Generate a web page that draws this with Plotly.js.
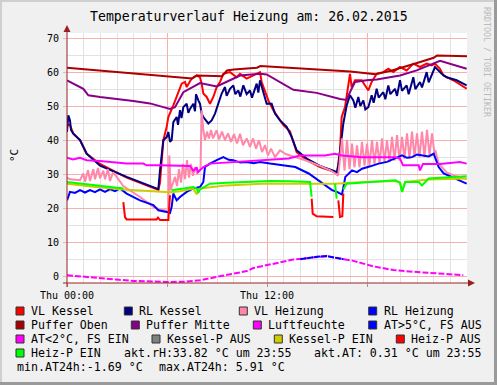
<!DOCTYPE html>
<html><head><meta charset="utf-8">
<script src="https://cdn.plot.ly/plotly-3.0.1.min.js"></script>
<style>html,body{margin:0;padding:0;background:#F0F0F0;}#chart{width:497px;height:385px;}</style>
</head><body><div id="chart"></div>
<script>
// ---- data (time in hours of 26.02.2015, values in °C / %) ----
const vlKesselT=[0,0.18,0.38,0.78,1.18,1.98,3.58,5.48,5.58,5.78,5.98,6.08,6.38,6.58,6.88,7.08,7.18,7.48,7.78,7.98,8.08,8.18,8.38,8.58,8.78,8.98,9.18,9.38,9.78,10.18,10.38,10.78,11.18,11.58,11.68,11.88,12.08,12.38,12.68,12.98,13.38,13.68,13.78,14.38,15.18,15.98,16.2,16.38,16.48,16.68,16.98,17.08,17.28,17.68,18.08,18.28,18.58,18.98,19.28,19.58,19.98,20.38,20.78,21.18,21.58,21.88,22.08,22.38,22.58,23.18,23.98];
const vlKesselV=[44.5,44.4,41.9,40.0,36.0,33.0,29.0,25.4,27.5,40.0,43.9,46.8,50.2,52.7,56.6,57.1,55.6,58.1,59.0,58.5,56.6,53.7,52.7,50.7,52.7,55.6,57.1,59.5,60.0,58.5,59.5,58.1,59.0,60.0,57.1,54.6,51.7,48.8,46.4,44.4,42.6,38.0,36.5,34.1,32.1,30.8,30.4,37.0,46.8,49.7,59.5,55.6,57.6,57.6,54.6,57.1,59.5,60.0,61.0,60.0,61.5,60.5,62.5,61.5,62.5,62.0,62.5,61.0,59.0,57.6,55.1];

const rlKesselT=[0,0.08,0.18,0.24,0.38,0.78,1.18,1.98,3.58,5.48,5.58,5.78,5.98,6.08,6.18,6.28,6.38,6.58,6.66,6.78,6.87,6.98,7.18,7.28,7.38,7.58,7.68,7.74,7.88,7.98,8.08,8.18,8.48,8.68,8.88,9.08,9.28,9.48,9.58,9.78,9.98,10.1,10.28,10.4,10.58,10.78,10.98,11.1,11.38,11.48,11.58,11.78,11.98,12.28,12.48,12.78,13.18,13.48,13.78,14.38,15.18,15.98,16.2,16.3,16.38,16.58,16.78,16.98,17.18,17.3,17.48,17.6,17.78,17.9,18.08,18.28,18.4,18.58,18.7,18.98,19.1,19.28,19.4,19.68,19.8,19.98,20.1,20.38,20.5,20.78,20.9,21.18,21.3,21.58,21.7,21.88,22.08,22.28,22.48,22.78,23.38,23.98];
const rlKesselV=[42.4,47.3,45.8,43.0,41.9,40.0,36.0,32.5,29.2,25.6,31.1,40.0,40.9,42.4,39.5,40.0,45.3,46.8,44.5,48.8,46.5,49.7,50.7,48.0,49.2,50.7,48.5,53.5,51.7,50.7,47.8,46.8,44.9,45.8,47.8,50.7,53.7,55.6,53.0,55.1,56.1,53.5,54.6,52.8,56.1,53.5,54.6,52.5,56.6,54.0,57.6,54.1,50.7,50.7,47.8,45.8,43.9,40.9,37.0,34.6,32.4,31.0,30.6,33.1,37.0,44.9,50.2,53.2,51.7,49.5,52.7,50.0,51.7,49.0,49.7,53.2,51.0,55.1,52.5,54.1,52.0,56.1,53.5,55.1,53.0,57.6,54.5,56.1,53.5,58.5,55.0,57.1,55.5,60.0,57.0,59.0,61.5,60.5,59.5,58.5,57.6,56.1];

const vlHeizungT=[0,0.18,0.78,0.98,1.08,1.26,1.38,1.58,1.68,1.86,1.98,2.18,2.28,2.46,2.58,2.76,2.98,3.38,4.38,5.18,5.58,6.08,6.14,6.22,6.48,6.6,6.72,6.84,6.96,7.08,7.2,7.32,7.44,7.56,7.68,7.8,8.01,8.08,8.18,8.28,8.4,8.52,8.64,8.76,8.98,9.12,9.3,9.48,9.66,9.84,10.02,10.2,10.38,10.56,10.78,10.98,11.16,11.34,11.52,11.7,11.88,12.06,12.24,12.48,12.78,13.1,13.38,13.7,14.3,15.1,15.8,16.1,16.26,16.35,16.5,16.65,16.8,16.95,17.1,17.25,17.4,17.55,17.7,17.85,18.0,18.15,18.3,18.45,18.6,18.75,18.9,19.05,19.2,19.35,19.5,19.65,19.8,19.95,20.1,20.25,20.4,20.55,20.7,20.85,21.0,21.15,21.3,21.45,21.6,21.75,21.9,22.05,22.1,22.3,22.78,23.28,23.98];
const vlHeizungV=[29.0,28.5,28.2,30.2,27.8,31.2,28.0,31.5,28.5,31.8,28.8,31.0,28.5,31.5,28.0,30.5,29.2,26.5,23.3,20.4,19.6,19.2,35.5,25.3,29.2,26.5,31.5,27.5,33.0,28.5,34.1,29.0,33.0,29.5,32.0,30.2,31.5,48.8,42.9,40.0,42.5,40.5,43.0,40.5,42.9,40.2,42.5,40.0,42.0,39.5,41.8,39.0,41.9,38.5,40.5,38.0,40.5,37.5,40.0,36.5,38.5,35.5,37.5,35.0,37.0,36.0,35.5,35.0,34.1,32.6,31.1,30.2,29.5,33.0,40.5,31.0,40.0,31.5,39.0,32.0,38.5,32.0,39.5,32.5,39.0,32.5,40.0,33.0,39.5,33.0,40.5,33.5,40.0,33.5,41.0,34.0,41.5,34.0,41.0,34.5,42.0,34.5,42.5,35.0,42.0,35.0,42.5,35.0,43.0,35.5,42.0,36.0,37.0,33.1,30.5,29.5,28.6];

const rlHeizungT=[0,0.18,0.48,0.78,1.08,1.38,1.68,1.98,2.28,2.58,2.88,3.18,3.58,4.38,5.18,5.48,5.98,6.18,6.28,6.38,6.58,6.78,7.18,7.58,7.98,8.18,8.28,8.58,8.98,9.38,9.7,9.98,10.4,10.78,11.2,11.58,12.18,12.9,13.7,14.5,15.2,15.9,16.2,16.38,16.5,16.7,17.1,17.4,17.7,18.2,18.7,19.2,19.7,20.1,20.4,20.7,21.0,21.3,21.7,22.0,22.3,22.6,23.3,23.98];
const rlHeizungV=[22.3,24.8,24.5,25.3,24.6,25.3,24.7,25.5,24.8,25.6,25.0,25.8,24.3,22.3,20.9,19.4,18.9,18.6,20.4,24.3,22.3,23.3,24.8,25.8,26.2,27.7,32.1,33.1,34.1,35.0,34.2,34.1,33.4,33.6,33.2,33.6,33.1,32.6,32.1,30.2,27.7,25.3,24.8,24.3,24.0,29.2,31.1,30.6,31.6,32.3,33.1,33.6,34.6,35.5,34.8,35.0,35.8,35.5,35.2,36.0,32.1,30.2,28.7,27.2];

const pufferObenT=[0,2,4,6,7.5,7.8,9.3,9.6,10,11.4,11.6,17,18.5,19.5,20,21,22,22.2,24];
const pufferObenV=[61.3,60.4,59.6,58.8,58.1,59.0,58.8,60.5,60.8,61.3,61.8,60.2,59.4,60.5,61.3,62.7,64.2,64.9,64.7];

const pufferMitteT=[0,0.98,1.28,1.98,3.98,4.98,5.78,6.18,6.48,6.98,7.98,8.98,9.78,10.38,11.58,11.98,13.58,14.98,16.38,16.78,16.98,17.28,17.98,18.58,19.98,20.98,22.38,23.98];
const pufferMitteV=[57.6,55.1,53.2,52.7,51.5,50.8,49.7,49.2,49.7,54.1,56.8,55.8,57.6,59.0,59.5,59.3,54.8,53.9,52.1,51.8,54.1,57.1,57.6,57.8,59.0,60.5,63.3,61.0];

const luftT=[0,0.36,0.78,1.18,1.98,2.58,3.58,4.58,4.78,5.58,6.58,7.38,7.58,7.78,7.86,8.18,8.58,10.38,11.98,13.3,13.98,15.48,16.08,16.5,17.7,19.68,19.98,20.16,21.1,21.18,21.36,22.38,23.58,23.98];
const luftV=[34.8,34.3,34.8,34.1,33.9,33.6,33.1,33.1,32.6,32.6,32.6,32.4,31.0,32.0,30.6,32.1,33.1,33.6,34.1,34.6,35.5,35.5,36.0,35.5,35.0,35.0,34.6,32.6,32.6,31.1,33.0,33.0,33.6,33.1];

const atT=[0,0.98,1.98,2.98,3.98,4.98,5.98,6.98,7.98,8.98,9.98,10.78,11.18,11.98,12.78,13.58,14.38,14.98,15.58,16.38,17.18,18.38,19.58,20.78,22.38,23.78];
const atV=[0.3,-0.2,-0.7,-1.0,-1.4,-1.65,-1.69,-1.65,-1.2,-0.2,0.8,1.5,2.4,3.2,4.2,4.9,5.3,5.7,5.91,5.2,4.5,2.9,1.8,1.3,0.8,0.31];
const atHighT=[14.0,14.38,14.98,15.58,16.0,16.38,16.6];
const atHighV=[5.0,5.3,5.7,5.91,5.6,5.2,5.0];

const kesselPEinT=[0,1.58,3.58,5.58,6.18,6.78,7.58,7.78,7.98,9.58,11.7,14.7,16.08,17.58,19.7,19.98,20.1,20.28,21.7,23.98];
const kesselPEinV=[27.2,26.3,25.4,24.8,24.7,25.0,25.8,24.1,25.8,26.7,27.2,27.2,27.2,27.6,28.0,27.5,24.8,27.7,28.4,28.7];

const heizPEinT=[0,0.78,1.58,2.58,3.38,null,6.28,6.78,7.58,7.78,7.88,7.98,8.58,9.58,10.98,12.18,13.38,14.58,14.68,null,16.08,16.18,null,16.58,16.78,17.58,18.78,19.7,19.98,20.1,20.3,21.1,21.3,21.7,22.68,23.7,23.98];
const heizPEinV=[27.7,27.3,26.8,26.3,25.8,null,25.3,25.6,26.2,25.8,24.5,25.5,27.2,27.5,27.8,28.0,27.9,27.7,23.3,null,27.2,22.8,null,25.5,27.2,27.5,27.8,28.2,27.5,24.8,27.7,27.7,26.7,28.7,29.0,29.4,29.4];

const heizPAusT=[3.38,3.48,3.58,5.38,5.46,5.58,6.08,6.18,null,14.68,14.74,14.98,15.98,null,16.28,16.38,16.52,16.58];
const heizPAusV=[21.8,17.4,16.7,16.7,17.2,16.5,16.5,23.8,null,22.8,18.4,17.6,17.4,null,22.3,17.4,17.6,24.3];

const legendRows=[
  [["VL Kessel","#FF0000"],["RL Kessel","#000080"],["VL Heizung","#FF88AA"],["RL Heizung","#0000FF"]],
  [["Puffer Oben","#AA0000"],["Puffer Mitte","#880088"],["Luftfeuchte","#FF00FF"],["AT>5°C, FS AUS","#0000FF"]],
  [["AT<2°C, FS EIN","#FF00FF"],["Kessel-P AUS","#808080"],["Kessel-P EIN","#CCCC00"],["Heiz-P AUS","#FF0000"]],
  [["Heiz-P EIN","#00FF00"]]
];
const legendTextX=[[30,138.3,253.3,382.7],[30,145.3,267.3,382.7],[30,166,288.3,410.3],[30]];
const legendRowY=[311,325,339,353];
const infoTexts=["akt.rH:33.82 °C um 23:55","akt.AT: 0.31 °C um 23:55","min.AT24h:-1.69 °C","max.AT24h: 5.91 °C"];

// ---- layout helpers ----
const L=67,T=33,W=400,H=250;
const px=x=>(x-L)/W, py=y=>(T+H-y)/H;
const MONO="DejaVu Sans Mono";

function line(t,v,color,width,dash){return {x:t,y:v,type:'scatter',mode:'lines',line:{color:color,width:width||2,dash:dash||'solid'},connectgaps:false,hoverinfo:'skip'};}

const traces=[
  line(vlKesselT,vlKesselV,'#FF0000'),
  line(rlKesselT,rlKesselV,'#000080'),
  line(vlHeizungT,vlHeizungV,'#FF88AA'),
  line(rlHeizungT,rlHeizungV,'#0000FF'),
  line(pufferObenT,pufferObenV,'#AA0000'),
  line(pufferMitteT,pufferMitteV,'#880088'),
  line(luftT,luftV,'#FF00FF'),
  line(atT,atV,'#FF00FF',2,'6px,2px'),
  line(atHighT,atHighV,'#0000FF',2,'6px,1px'),
  line(kesselPEinT,kesselPEinV,'#CCCC00'),
  line(heizPAusT,heizPAusV,'#FF0000'),
  line(heizPEinT,heizPEinV,'#00FF00')
];

const shapes=[], annotations=[];
// frame
shapes.push({type:'line',xref:'paper',yref:'paper',x0:px(0),x1:px(497),y0:py(1),y1:py(1),line:{color:'#CFCFCF',width:2}});
shapes.push({type:'line',xref:'paper',yref:'paper',x0:px(1),x1:px(1),y0:py(0),y1:py(385),line:{color:'#CFCFCF',width:2}});
shapes.push({type:'line',xref:'paper',yref:'paper',x0:px(0),x1:px(497),y0:py(383.5),y1:py(383.5),line:{color:'#9A9A9A',width:3}});
shapes.push({type:'line',xref:'paper',yref:'paper',x0:px(495.5),x1:px(495.5),y0:py(0),y1:py(385),line:{color:'#9A9A9A',width:3}});
// axes with arrows
const AX='#9A2020';
shapes.push({type:'line',xref:'paper',yref:'paper',x0:px(67),x1:px(67),y0:py(287),y1:py(30),line:{color:AX,width:1}});
shapes.push({type:'line',xref:'paper',yref:'paper',x0:px(63),x1:px(470),y0:py(283),y1:py(283),line:{color:AX,width:1}});
shapes.push({type:'path',xref:'paper',yref:'paper',path:`M ${px(67)} ${py(25)} L ${px(63.5)} ${py(32)} L ${px(70.5)} ${py(32)} Z`,fillcolor:AX,line:{color:AX,width:0}});
shapes.push({type:'path',xref:'paper',yref:'paper',path:`M ${px(475)} ${py(283)} L ${px(468)} ${py(279.5)} L ${px(468)} ${py(286.5)} Z`,fillcolor:AX,line:{color:AX,width:0}});

// legend
legendRows.forEach((row,ri)=>{
  row.forEach((item,ii)=>{
    const tx=legendTextX[ri][ii], yy=legendRowY[ri];
    const bx=tx-14;
    shapes.push({type:'rect',xref:'paper',yref:'paper',x0:px(bx),x1:px(bx+8),y0:py(yy+4),y1:py(yy-4),fillcolor:item[1],line:{color:'#333333',width:1}});
    annotations.push({xref:'paper',yref:'paper',x:px(tx-1),y:py(yy),xanchor:'left',yanchor:'middle',showarrow:false,text:item[0],font:{family:MONO,size:11.6,color:'#000'}});
  });
});
annotations.push({xref:'paper',yref:'paper',x:px(121.7),y:py(353),xanchor:'left',yanchor:'middle',showarrow:false,text:infoTexts[0],font:{family:MONO,size:11.6,color:'#000'}});
annotations.push({xref:'paper',yref:'paper',x:px(311.7),y:py(353),xanchor:'left',yanchor:'middle',showarrow:false,text:infoTexts[1],font:{family:MONO,size:11.6,color:'#000'}});
annotations.push({xref:'paper',yref:'paper',x:px(15),y:py(367),xanchor:'left',yanchor:'middle',showarrow:false,text:infoTexts[2],font:{family:MONO,size:11.6,color:'#000'}});
annotations.push({xref:'paper',yref:'paper',x:px(157),y:py(367),xanchor:'left',yanchor:'middle',showarrow:false,text:infoTexts[3],font:{family:MONO,size:11.6,color:'#000'}});
// title, y unit, watermark
annotations.push({xref:'paper',yref:'paper',x:px(249),y:py(17),xanchor:'center',yanchor:'middle',showarrow:false,text:'Temperaturverlauf Heizung am: 26.02.2015',font:{family:MONO,size:13.2,color:'#000'}});
annotations.push({xref:'paper',yref:'paper',x:px(14),y:py(156),xanchor:'center',yanchor:'middle',showarrow:false,textangle:-90,text:'°C',font:{family:MONO,size:11,color:'#000'}});
annotations.push({xref:'paper',yref:'paper',x:px(487),y:py(62),xanchor:'center',yanchor:'middle',showarrow:false,textangle:90,text:'RRDTOOL / TOBI OETIKER',font:{family:MONO,size:8.3,color:'#BBBBBB'}});

const layout={
  width:497,height:385,autosize:false,
  margin:{l:L,r:497-L-W,t:T,b:385-T-H,pad:0},
  paper_bgcolor:'#F0F0F0',plot_bgcolor:'#FFFFFF',
  showlegend:false,
  xaxis:{range:[0,24],tickvals:[0,6,12,18],ticktext:['Thu 00:00','','Thu 12:00',''],
    showgrid:true,gridcolor:'#F5B0B0',gridwidth:1,zeroline:false,showline:false,
    ticks:'outside',ticklen:3,tickcolor:'#999999',
    tickfont:{family:MONO,size:10,color:'#000'},
    minor:{dtick:1,tick0:0,showgrid:true,gridcolor:'#E2E2E2',gridwidth:1,ticks:''},fixedrange:true},
  yaxis:{range:[-2,71.5],tickvals:[0,10,20,30,40,50,60,70],
    showgrid:true,gridcolor:'#F5B0B0',gridwidth:1,zeroline:false,showline:false,
    ticks:'outside',ticklen:3,tickcolor:'#F5B0B0',ticklabelstandoff:2,
    tickfont:{family:MONO,size:10,color:'#000'},
    minor:{dtick:5,tick0:0,showgrid:true,gridcolor:'#E2E2E2',gridwidth:1,ticks:''},fixedrange:true},
  shapes:shapes,annotations:annotations
};
Plotly.newPlot('chart',traces,layout,{displayModeBar:false,staticPlot:true});
</script></body></html>
